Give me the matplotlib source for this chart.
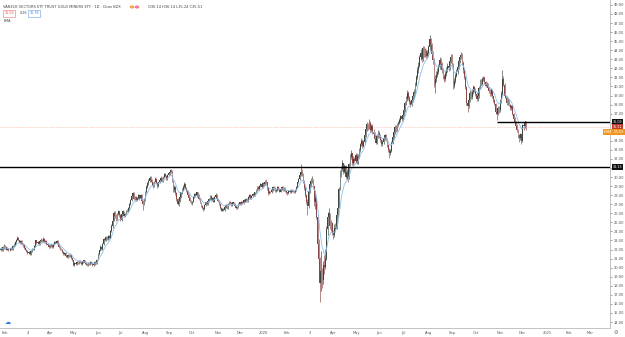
import numpy as np
import pandas as pd
import matplotlib
matplotlib.use("Agg")
import matplotlib.pyplot as plt
import matplotlib.transforms as mtransforms

# ---------------- data ----------------
holidays = ["2019-02-18", "2019-04-19", "2019-05-27", "2019-07-04", "2019-09-02", "2019-11-28",
            "2019-12-25", "2020-01-01", "2020-01-20", "2020-02-17", "2020-04-10", "2020-05-25",
            "2020-07-03", "2020-09-07", "2020-11-26", "2020-12-25", "2021-01-01", "2021-01-18",
            "2021-02-15"]

opens = [
    22.0, 22.1, 21.9, 22.3,
    22.4, 22.3, 22.0, 22.1, 21.9, 22.0, 22.2, 22.1, 22.4, 22.5, 22.8, 23.1, 23.3, 23.0, 22.7, 22.9, 22.6, 22.5, 22.2,
    22.0, 21.8, 21.6, 21.7, 21.5, 21.8, 22.1, 22.0, 22.4, 23.0, 22.7, 22.8, 22.6, 22.9, 23.1, 22.9, 23.2, 22.8, 22.9, 22.6, 22.5,
    22.3, 22.4, 22.5, 22.3, 22.6, 22.8, 22.7, 22.9, 22.6, 22.3, 22.1, 22.0, 21.7, 21.5, 21.6, 21.3, 21.2, 21.4, 21.3, 21.4, 21.1,
    20.8, 20.3, 20.5, 20.4, 20.6, 20.5, 20.7, 20.6, 20.4, 20.6, 20.8, 20.5, 20.4, 20.3, 20.5, 20.4, 20.6, 20.5, 20.3, 20.4, 20.6, 20.5,
    20.9, 21.5, 21.9, 22.3, 22.1, 22.6, 23.2, 23.0, 23.4, 23.2, 23.5, 23.3, 24.0, 24.6, 25.2, 26.0, 25.7, 25.4, 25.9, 26.2,
    25.8, 25.3, 25.9, 26.2, 25.7, 25.9, 26.3, 26.2, 26.6, 27.0, 27.5, 27.9, 28.2, 27.6, 27.8, 27.5, 27.7, 28.0, 27.6, 28.0, 27.4, 27.0,
    27.6, 28.3, 28.9, 29.3, 29.6, 29.9, 29.7, 29.4, 29.0, 29.5, 29.8, 29.3, 29.0, 29.4, 29.7, 29.9, 29.5, 30.0, 30.3, 30.1, 29.8, 30.2,
    30.4, 30.6, 30.8, 29.6, 28.6, 28.9, 28.2, 27.6, 27.0, 27.4, 27.8, 28.3, 28.6, 28.9, 29.2, 28.8, 28.5, 28.0, 27.7, 27.4,
    27.1, 27.3, 27.8, 28.1, 27.9, 28.3, 28.0, 27.6, 27.2, 26.8, 26.6, 26.5, 26.9, 27.2, 27.0, 27.4, 27.6, 27.9, 27.5, 27.7, 27.3, 27.8, 28.0,
    27.6, 27.4, 27.0, 26.6, 26.3, 26.5, 26.4, 26.7, 26.9, 26.6, 27.0, 27.3, 27.1, 26.9, 27.2, 27.0, 26.8, 26.6, 26.7, 27.0,
    27.2, 27.0, 27.3, 27.1, 27.5, 27.3, 27.6, 27.4, 27.8, 28.0, 27.7, 27.9, 28.1, 28.0, 28.3, 28.6, 28.9, 28.7, 29.0, 29.2, 28.9,
    29.3, 29.2, 29.5, 29.4, 28.8, 28.2, 28.4, 28.3, 28.6, 28.9, 28.8, 28.5, 28.6, 28.9, 28.7, 28.4, 28.7, 28.9, 28.6, 28.8, 28.5,
    28.3, 28.2, 28.5, 28.3, 28.6, 28.4, 28.5, 28.3, 28.6, 28.9, 29.4, 29.8, 30.2, 30.6, 30.3, 29.5, 28.8, 28.0, 27.2,
    26.8, 28.5, 29.2, 29.6, 29.8, 29.0, 27.2, 27.7, 25.6, 22.6, 21.0, 18.3, 19.6, 18.6, 20.3, 20.1, 21.0, 24.3, 25.6, 26.0, 24.6, 24.9,
    23.8, 23.6, 24.4, 24.3, 25.8, 26.6, 28.7, 30.4, 30.9, 31.5, 30.6, 31.2, 30.0, 30.6, 29.8, 31.4, 32.2, 32.6, 31.5, 32.0, 31.8,
    32.4, 31.6, 32.3, 33.0, 33.6, 34.0, 33.4, 33.9, 34.6, 35.3, 35.8, 35.5, 36.0, 35.2, 35.6, 35.0, 34.8, 34.2, 33.8, 34.5,
    34.9, 34.5, 34.1, 33.6, 33.9, 34.3, 34.6, 34.2, 33.5, 33.0, 32.6, 32.9, 33.8, 34.4, 35.0, 35.5, 35.2, 35.8, 36.0, 36.3, 36.7, 36.4,
    36.9, 37.4, 38.2, 38.6, 39.3, 38.7, 38.3, 38.0, 38.5, 38.9, 39.4, 40.2, 41.0, 41.8, 42.3, 43.2, 43.7, 43.0, 44.2, 43.6, 43.9, 43.4,
    43.7, 44.3, 45.2, 44.6, 43.6, 42.9, 40.3, 40.8, 41.3, 41.6, 42.2, 42.9, 42.5, 41.8, 41.1, 40.8, 41.4, 41.8, 42.3, 42.0, 42.8,
    43.3, 42.4, 40.0, 40.6, 41.2, 41.6, 42.1, 42.8, 43.2, 43.5, 42.6, 41.8, 41.0, 39.9, 38.2, 37.8, 38.5, 39.3, 38.8, 39.4, 39.9,
    39.6, 39.2, 38.6, 38.9, 39.8, 40.6, 40.3, 40.8, 40.9, 40.5, 40.1, 40.3, 39.8, 39.5, 39.2, 39.6, 38.9, 38.5, 38.1, 37.2, 37.0, 37.6,
    37.4, 38.4, 39.2, 40.8, 40.2, 39.0, 38.7, 38.2, 38.5, 38.0, 37.6, 37.8, 37.0, 36.4, 36.0, 35.6, 35.2, 34.6, 34.3, 34.7,
    34.0, 35.7, 35.6, 36.14,
]

highs = [
    22.3, 22.2, 22.4, 22.6,
    22.5, 22.4, 22.3, 22.2, 22.1, 22.3, 22.3, 22.5, 22.7, 22.9, 23.2, 23.5, 23.4, 23.1, 23.0, 23.0, 22.7, 22.6, 22.3,
    22.1, 21.9, 21.8, 21.8, 21.9, 22.2, 22.2, 22.5, 23.1, 23.1, 22.9, 22.9, 23.0, 23.3, 23.2, 23.4, 23.3, 23.0, 23.0, 22.7, 22.6,
    22.6, 22.7, 22.6, 22.7, 22.9, 22.9, 23.0, 23.0, 22.7, 22.4, 22.2, 22.1, 21.8, 21.7, 21.7, 21.4, 21.5, 21.5, 21.5, 21.5, 21.2,
    20.9, 20.6, 20.6, 20.7, 20.7, 20.8, 20.8, 20.7, 20.7, 20.9, 20.9, 20.6, 20.5, 20.6, 20.6, 20.7, 20.7, 20.6, 20.5, 20.7, 20.7, 21.0,
    21.6, 22.0, 22.5, 22.4, 22.7, 23.3, 23.3, 23.5, 23.5, 23.6, 23.6, 24.2, 24.8, 25.4, 26.2, 26.3, 25.9, 26.0, 26.4, 26.3,
    25.9, 26.0, 26.4, 26.3, 26.0, 26.4, 26.5, 26.7, 27.1, 27.6, 28.0, 28.4, 28.3, 27.9, 27.9, 27.8, 28.1, 28.1, 28.1, 28.1, 27.5, 27.7,
    28.5, 29.1, 29.5, 29.8, 30.1, 30.1, 29.8, 29.5, 29.6, 30.0, 29.9, 29.4, 29.5, 29.8, 30.1, 30.0, 30.1, 30.5, 30.4, 30.2, 30.3, 30.6,
    30.8, 30.9, 30.8, 29.7, 29.1, 29.0, 28.3, 27.7, 27.5, 27.9, 28.4, 28.8, 29.1, 29.5, 29.3, 28.9, 28.6, 28.1, 27.8, 27.5,
    27.4, 27.9, 28.2, 28.2, 28.4, 28.4, 28.1, 27.7, 27.3, 26.9, 26.7, 27.0, 27.3, 27.3, 27.5, 27.7, 28.0, 28.0, 27.8, 27.8, 27.9, 28.2, 28.1,
    27.7, 27.5, 27.1, 26.7, 26.6, 26.6, 26.8, 27.0, 27.0, 27.1, 27.4, 27.4, 27.2, 27.3, 27.3, 27.1, 26.9, 26.8, 27.1, 27.3,
    27.3, 27.4, 27.4, 27.6, 27.6, 27.7, 27.7, 27.9, 28.1, 28.1, 28.0, 28.2, 28.2, 28.4, 28.7, 29.0, 29.0, 29.1, 29.3, 29.3, 29.4,
    29.4, 29.7, 29.8, 29.5, 28.9, 28.6, 28.5, 28.7, 29.0, 29.0, 28.9, 28.7, 29.0, 29.0, 28.8, 28.8, 29.0, 29.0, 28.9, 28.9, 28.6,
    28.4, 28.6, 28.6, 28.7, 28.7, 28.6, 28.6, 28.7, 29.0, 29.5, 29.9, 30.4, 31.4, 30.9, 30.4, 29.7, 29.0, 28.1, 27.6,
    28.7, 29.6, 29.9, 30.1, 29.7, 28.3, 28.6, 27.9, 25.8, 23.2, 21.2, 21.8, 20.0, 20.7, 21.4, 22.1, 24.6, 26.1, 26.6, 25.9, 25.3, 25.0,
    24.2, 24.8, 24.9, 26.0, 27.0, 28.9, 30.8, 31.2, 31.9, 31.4, 31.4, 31.3, 30.9, 30.7, 31.6, 32.5, 33.0, 32.6, 32.3, 32.2, 32.6,
    32.6, 32.5, 33.2, 33.8, 34.3, 34.2, 34.1, 34.8, 35.5, 36.1, 36.0, 36.4, 36.2, 35.8, 35.8, 35.3, 35.0, 34.4, 34.7, 35.2,
    35.1, 34.7, 34.2, 34.1, 34.5, 34.8, 34.8, 34.3, 33.7, 33.2, 33.1, 34.0, 34.6, 35.2, 35.7, 35.7, 36.0, 36.2, 36.5, 36.9, 36.9, 37.1,
    37.6, 38.4, 38.9, 39.6, 39.5, 38.9, 38.5, 38.7, 39.1, 39.7, 40.5, 41.3, 42.1, 42.7, 43.5, 44.1, 44.0, 44.5, 44.5, 44.2, 44.1, 44.0,
    44.6, 45.7, 45.4, 44.8, 43.9, 43.1, 41.3, 41.7, 42.0, 42.5, 43.2, 43.1, 42.7, 42.0, 41.4, 41.7, 42.1, 42.6, 42.5, 43.1, 43.6,
    43.6, 42.6, 40.9, 41.5, 41.9, 42.4, 43.1, 43.5, 43.8, 43.7, 42.8, 42.0, 41.2, 40.1, 38.5, 38.8, 39.6, 39.5, 39.7, 40.2, 40.1,
    39.8, 39.4, 39.1, 40.0, 40.8, 40.8, 41.0, 41.2, 41.1, 40.6, 40.5, 40.4, 39.9, 39.7, 39.8, 39.7, 39.0, 38.6, 38.2, 37.5, 37.8, 37.8,
    38.6, 39.5, 41.8, 41.2, 40.4, 39.1, 38.9, 38.7, 38.6, 38.1, 38.0, 37.9, 37.1, 36.6, 36.2, 35.8, 35.3, 34.8, 34.9, 34.8,
    35.9, 36.0, 36.2, 36.14,
]

lows = [
    21.8, 21.8, 21.8, 22.1,
    22.1, 21.9, 21.9, 21.8, 21.8, 21.9, 22.0, 22.0, 22.3, 22.4, 22.7, 23.0, 22.9, 22.6, 22.6, 22.5, 22.3, 22.1, 21.9,
    21.7, 21.5, 21.5, 21.4, 21.4, 21.7, 21.9, 21.9, 22.3, 22.6, 22.6, 22.5, 22.5, 22.8, 22.8, 22.8, 22.7, 22.7, 22.5, 22.4, 22.2,
    22.2, 22.3, 22.2, 22.2, 22.5, 22.6, 22.6, 22.5, 22.2, 22.0, 21.9, 21.6, 21.4, 21.4, 21.2, 21.1, 21.1, 21.2, 21.2, 21.0, 20.7,
    20.2, 20.2, 20.3, 20.3, 20.4, 20.4, 20.5, 20.3, 20.3, 20.5, 20.4, 20.3, 20.2, 20.2, 20.3, 20.3, 20.4, 20.2, 20.2, 20.3, 20.4, 20.4,
    20.8, 21.4, 21.8, 22.0, 22.0, 22.5, 22.9, 22.9, 23.1, 23.1, 23.2, 23.2, 23.9, 24.4, 25.1, 25.5, 25.2, 25.3, 25.8, 25.6,
    25.1, 25.2, 25.8, 25.6, 25.6, 25.8, 26.1, 26.1, 26.5, 26.9, 27.4, 27.8, 27.5, 27.5, 27.4, 27.4, 27.6, 27.5, 27.5, 27.3, 26.4, 26.9,
    27.4, 28.2, 28.8, 29.1, 29.4, 29.5, 29.3, 28.8, 28.9, 29.4, 29.2, 28.8, 28.9, 29.3, 29.6, 29.4, 29.4, 29.9, 30.0, 29.7, 29.7, 30.1,
    30.2, 30.4, 29.4, 28.4, 28.4, 28.0, 27.4, 26.9, 26.8, 27.2, 27.7, 28.1, 28.5, 28.8, 28.7, 28.3, 27.9, 27.6, 27.3, 27.0,
    26.9, 27.2, 27.7, 27.8, 27.8, 27.9, 27.5, 27.1, 26.7, 26.5, 26.3, 26.4, 26.8, 26.9, 26.9, 27.3, 27.5, 27.4, 27.4, 27.2, 27.2, 27.7, 27.5,
    27.3, 26.9, 26.5, 26.2, 26.2, 26.3, 26.3, 26.6, 26.5, 26.5, 26.9, 27.0, 26.8, 26.8, 26.9, 26.7, 26.5, 26.5, 26.6, 26.9,
    26.9, 26.9, 27.0, 27.0, 27.2, 27.2, 27.3, 27.3, 27.7, 27.6, 27.6, 27.8, 27.9, 27.9, 28.2, 28.5, 28.6, 28.6, 28.9, 28.8, 28.8,
    29.0, 29.1, 29.2, 28.6, 28.0, 28.1, 28.2, 28.2, 28.5, 28.6, 28.4, 28.4, 28.5, 28.6, 28.3, 28.3, 28.6, 28.5, 28.5, 28.4, 28.1,
    28.0, 28.1, 28.2, 28.2, 28.3, 28.3, 28.2, 28.2, 28.5, 28.8, 29.3, 29.7, 30.1, 30.1, 29.3, 28.6, 27.8, 27.0, 25.8,
    26.6, 28.2, 28.9, 29.3, 28.8, 26.8, 26.5, 25.4, 22.3, 20.1, 16.2, 17.4, 17.8, 18.2, 19.3, 19.9, 20.9, 23.6, 25.1, 24.3, 24.0, 23.6,
    23.2, 23.4, 23.9, 24.5, 25.6, 26.8, 28.6, 30.0, 30.7, 30.3, 30.4, 29.8, 29.8, 29.5, 29.9, 31.2, 32.0, 31.3, 31.3, 31.5, 31.6,
    31.4, 31.4, 32.1, 32.8, 33.4, 33.2, 33.3, 33.7, 34.4, 35.1, 35.2, 35.3, 35.0, 35.0, 34.8, 34.6, 34.0, 33.6, 33.7, 34.3,
    34.3, 33.9, 33.4, 33.4, 33.7, 34.1, 34.0, 33.3, 32.8, 32.1, 32.4, 32.8, 33.6, 34.2, 34.8, 35.0, 35.1, 35.6, 35.9, 36.1, 36.2, 36.3,
    36.7, 37.2, 38.0, 38.4, 38.5, 38.1, 37.7, 37.8, 38.3, 38.7, 39.2, 40.0, 40.8, 41.5, 42.1, 42.9, 42.7, 42.8, 43.3, 43.3, 43.1, 43.1,
    43.4, 44.0, 44.2, 43.3, 42.5, 39.9, 39.3, 40.5, 41.0, 41.4, 41.9, 42.2, 41.5, 40.8, 40.5, 40.6, 41.2, 41.6, 41.7, 41.8, 42.6,
    42.2, 39.7, 39.8, 40.4, 41.0, 41.4, 41.9, 42.6, 43.0, 42.4, 41.5, 40.8, 39.7, 38.0, 37.2, 37.6, 38.3, 38.6, 38.6, 39.2, 39.4,
    39.0, 38.4, 38.4, 38.7, 39.7, 40.1, 40.2, 40.6, 40.3, 39.9, 39.9, 39.6, 39.3, 39.0, 39.0, 38.7, 38.3, 37.9, 37.0, 36.3, 36.9, 37.1,
    37.2, 38.2, 39.1, 40.0, 38.7, 38.4, 37.9, 38.0, 37.8, 37.4, 37.4, 36.8, 36.2, 35.8, 35.4, 35.0, 34.3, 33.9, 34.1, 33.6,
    33.9, 35.2, 35.4, 35.24,
]

closes = [
    22.1, 21.9, 22.3, 22.4,
    22.3, 22.0, 22.1, 21.9, 22.0, 22.2, 22.1, 22.4, 22.5, 22.8, 23.1, 23.3, 23.0, 22.7, 22.9, 22.6, 22.5, 22.2, 22.0,
    21.8, 21.6, 21.7, 21.5, 21.8, 22.1, 22.0, 22.4, 23.0, 22.7, 22.8, 22.6, 22.9, 23.1, 22.9, 23.2, 22.8, 22.9, 22.6, 22.5, 22.3,
    22.4, 22.5, 22.3, 22.6, 22.8, 22.7, 22.9, 22.6, 22.3, 22.1, 22.0, 21.7, 21.5, 21.6, 21.3, 21.2, 21.4, 21.3, 21.4, 21.1, 20.8,
    20.3, 20.5, 20.4, 20.6, 20.5, 20.7, 20.6, 20.4, 20.6, 20.8, 20.5, 20.4, 20.3, 20.5, 20.4, 20.6, 20.5, 20.3, 20.4, 20.6, 20.5, 20.9,
    21.5, 21.9, 22.3, 22.1, 22.6, 23.2, 23.0, 23.4, 23.2, 23.5, 23.3, 24.0, 24.6, 25.2, 26.0, 25.7, 25.4, 25.9, 26.2, 25.8,
    25.3, 25.9, 26.2, 25.7, 25.9, 26.3, 26.2, 26.6, 27.0, 27.5, 27.9, 28.2, 27.6, 27.8, 27.5, 27.7, 28.0, 27.6, 28.0, 27.4, 27.0, 27.6,
    28.3, 28.9, 29.3, 29.6, 29.9, 29.7, 29.4, 29.0, 29.5, 29.8, 29.3, 29.0, 29.4, 29.7, 29.9, 29.5, 30.0, 30.3, 30.1, 29.8, 30.2, 30.4,
    30.6, 30.8, 29.6, 28.6, 28.9, 28.2, 27.6, 27.0, 27.4, 27.8, 28.3, 28.6, 28.9, 29.2, 28.8, 28.5, 28.0, 27.7, 27.4, 27.1,
    27.3, 27.8, 28.1, 27.9, 28.3, 28.0, 27.6, 27.2, 26.8, 26.6, 26.5, 26.9, 27.2, 27.0, 27.4, 27.6, 27.9, 27.5, 27.7, 27.3, 27.8, 28.0, 27.6,
    27.4, 27.0, 26.6, 26.3, 26.5, 26.4, 26.7, 26.9, 26.6, 27.0, 27.3, 27.1, 26.9, 27.2, 27.0, 26.8, 26.6, 26.7, 27.0, 27.2,
    27.0, 27.3, 27.1, 27.5, 27.3, 27.6, 27.4, 27.8, 28.0, 27.7, 27.9, 28.1, 28.0, 28.3, 28.6, 28.9, 28.7, 29.0, 29.2, 28.9, 29.3,
    29.2, 29.5, 29.4, 28.8, 28.2, 28.4, 28.3, 28.6, 28.9, 28.8, 28.5, 28.6, 28.9, 28.7, 28.4, 28.7, 28.9, 28.6, 28.8, 28.5, 28.3,
    28.2, 28.5, 28.3, 28.6, 28.4, 28.5, 28.3, 28.6, 28.9, 29.4, 29.8, 30.2, 30.6, 30.3, 29.5, 28.8, 28.0, 27.2, 26.8,
    28.5, 29.2, 29.6, 29.8, 29.0, 27.2, 27.7, 25.6, 22.6, 21.0, 18.3, 19.6, 18.6, 20.3, 20.1, 21.0, 24.3, 25.6, 26.0, 24.6, 24.9, 23.8,
    23.6, 24.4, 24.3, 25.8, 26.6, 28.7, 30.4, 30.9, 31.5, 30.6, 31.2, 30.0, 30.6, 29.8, 31.4, 32.2, 32.6, 31.5, 32.0, 31.8, 32.4,
    31.6, 32.3, 33.0, 33.6, 34.0, 33.4, 33.9, 34.6, 35.3, 35.8, 35.5, 36.0, 35.2, 35.6, 35.0, 34.8, 34.2, 33.8, 34.5, 34.9,
    34.5, 34.1, 33.6, 33.9, 34.3, 34.6, 34.2, 33.5, 33.0, 32.6, 32.9, 33.8, 34.4, 35.0, 35.5, 35.2, 35.8, 36.0, 36.3, 36.7, 36.4, 36.9,
    37.4, 38.2, 38.6, 39.3, 38.7, 38.3, 38.0, 38.5, 38.9, 39.4, 40.2, 41.0, 41.8, 42.3, 43.2, 43.7, 43.0, 44.2, 43.6, 43.9, 43.4, 43.7,
    44.3, 45.2, 44.6, 43.6, 42.9, 40.3, 40.8, 41.3, 41.6, 42.2, 42.9, 42.5, 41.8, 41.1, 40.8, 41.4, 41.8, 42.3, 42.0, 42.8, 43.3,
    42.4, 40.0, 40.6, 41.2, 41.6, 42.1, 42.8, 43.2, 43.5, 42.6, 41.8, 41.0, 39.9, 38.2, 37.8, 38.5, 39.3, 38.8, 39.4, 39.9, 39.6,
    39.2, 38.6, 38.9, 39.8, 40.6, 40.3, 40.8, 40.9, 40.5, 40.1, 40.3, 39.8, 39.5, 39.2, 39.6, 38.9, 38.5, 38.1, 37.2, 37.0, 37.6, 37.4,
    38.4, 39.2, 40.8, 40.2, 39.0, 38.7, 38.2, 38.5, 38.0, 37.6, 37.8, 37.0, 36.4, 36.0, 35.6, 35.2, 34.6, 34.3, 34.7, 34.0,
    35.7, 35.6, 36.0, 35.51,
]

tick_dates = ["2019-02-01", "2019-03-04", "2019-04-01", "2019-05-01", "2019-06-03", "2019-07-01",
              "2019-08-01", "2019-09-03", "2019-10-01", "2019-11-01", "2019-12-02", "2020-01-02",
              "2020-02-03", "2020-03-03", "2020-04-01", "2020-05-01", "2020-06-01", "2020-07-01",
              "2020-08-03", "2020-09-01", "2020-10-01", "2020-11-02", "2020-12-01", "2021-01-04",
              "2021-02-01", "2021-03-01"]
tick_labels = ["Feb", "4", "Apr", "May", "Jun", "Jul", "Aug", "Sep", "Oct", "Nov", "Dec", "2020",
               "Feb", "3", "Apr", "May", "Jun", "Jul", "Aug", "Sep", "Oct", "Nov", "Dec", "2021",
               "Feb", "Mar"]
price_ticks = list(range(14, 50))
level_upper = 36.03          # short horizontal line (from Oct 2020 low)
level_upper_start = "2020-10-28"
level_lower = 31.15          # long horizontal line (Sep 2019 high)
ema_span = 9
title = "VANECK VECTORS ETF TRUST GOLD MINERS ETF · 1D · Cboe BZX"
ohlc_text = "O36.14 H36.14 L35.24 C35.51"
sell_text, spread_text, buy_text = "35.50", "0.26", "35.76"

# ---------------- derived ----------------
cal = pd.bdate_range("2019-01-28", "2021-03-31", freq="C", holidays=holidays)
n = len(closes)
dates = cal[:n]
o = np.array(opens); h = np.array(highs); l = np.array(lows); c = np.array(closes)
h = np.maximum(h, np.maximum(o, c)); l = np.minimum(l, np.minimum(o, c))
x = np.arange(n)
ema = pd.Series(c).ewm(span=ema_span, adjust=False).mean().values

# ---------------- figure ----------------
W, H = 625, 337
fig = plt.figure(figsize=(W / 100, H / 100), dpi=100)
fig.patch.set_facecolor("white")
ax_right = 610
ax_bottom = 328
ax = fig.add_axes([0, (H - ax_bottom) / H, ax_right / W, ax_bottom / H])
ax.set_facecolor("white")
ax.set_xlim(-0.5, ax_right / 1.12 - 0.5)
ax.set_ylim(13.34, 49.54)

up_col = "#3c463f"
dn_col = "#8a4747"
cols = np.where(c >= o, up_col, dn_col)
ax.vlines(x, l, h, colors=cols, linewidth=0.45, zorder=3)
body_h = np.maximum(np.abs(c - o), 0.06)
ax.bar(x, body_h, bottom=np.minimum(o, c), width=0.75, color=cols, linewidth=0, zorder=4)

ax.plot(x, ema, color="#8cc0ee", linewidth=0.6, zorder=5)

# price line (dotted)
ax.axhline(c[-1], color="#f2a48f", linewidth=0.5, linestyle=(0, (1, 1.5)), zorder=2)

# horizontal levels
ax.axhline(level_lower, color="black", linewidth=1.0, zorder=6)
xs = dates.get_loc(pd.Timestamp(level_upper_start))
ax.hlines(level_upper, xs, ax.get_xlim()[1], color="black", linewidth=1.0, zorder=6)

# spines
for s in ["top", "left"]:
    ax.spines[s].set_visible(False)
for s in ["bottom", "right"]:
    ax.spines[s].set_color("#b8b8b8")
    ax.spines[s].set_linewidth(0.6)

# x ticks
tpos = [cal.get_loc(pd.Timestamp(d)) for d in tick_dates]
ax.set_xticks(tpos)
ax.set_xticklabels(tick_labels)
ax.tick_params(axis="x", length=0, labelsize=2.6, colors="#555555", pad=2.2)

# y ticks on right, skip ones hidden by label boxes
ema_box_y = min(ema[-1], c[-1] - 0.55)
box_levels = [level_upper, c[-1], ema_box_y, level_lower]
ax.yaxis.tick_right()
ax.set_yticks(price_ticks)
ax.set_yticklabels(["" if min(abs(p - b) for b in box_levels) < 0.6 else f"{p:.2f}" for p in price_ticks])
ax.tick_params(axis="y", length=1.2, width=0.4, labelsize=2.6, colors="#555555", pad=1.2)

# price-axis boxes (x in figure pixels, y in data)
trans = mtransforms.blended_transform_factory(fig.transFigure, ax.transData)
def box(y, txt, fc, xc=617.5, ha="center"):
    ax.text(xc / W, y, txt, transform=trans, ha=ha, va="center", fontsize=2.4, color="white",
            bbox=dict(boxstyle="square,pad=0.3", fc=fc, ec="none"), zorder=10, clip_on=False)
box(level_upper, f"{level_upper:.2f}", "#111111")
box(level_lower, f"{level_lower:.2f}", "#111111")
box(c[-1], f"{c[-1]:.2f}", "#c0392b")
box(ema_box_y, f"EMA  {ema[-1]:.2f}", "#f0961e", xc=623.5, ha="right")

# legend texts (top-left)
def ftxt(px, py, s, **kw):
    fig.text(px / W, 1 - py / H, s, va="center", ha="left", **kw)
ftxt(3, 7, title, fontsize=2.6, color="#444444")
fig.patches.append(plt.Circle((132 / W, 1 - 7 / H), 1.6 / W, color="#f4a64a", transform=fig.transFigure, figure=fig))
fig.patches.append(plt.Circle((137 / W, 1 - 7 / H), 1.6 / W, color="#ee7b9a", transform=fig.transFigure, figure=fig))
ftxt(148, 7, ohlc_text, fontsize=2.6, color="#444444")
ftxt(4.5, 13.5, sell_text, fontsize=2.4, color="#d9534f",
     bbox=dict(boxstyle="square,pad=0.4", fc="white", ec="#e57373", lw=0.4))
ftxt(19.5, 13.5, spread_text, fontsize=2.4, color="#444444")
ftxt(29.5, 13.5, buy_text, fontsize=2.4, color="#4a7fd4",
     bbox=dict(boxstyle="square,pad=0.4", fc="white", ec="#64a0e8", lw=0.4))
ftxt(4, 20.5, "EMA", fontsize=2.4, color="#444444")

# small icons
ftxt(5, 322, "☁", fontsize=4.5, color="#2f7de1")
ftxt(614, 333, "⚙", fontsize=3.5, color="#666666")

fig.savefig("out.png", dpi=100, facecolor="white")
